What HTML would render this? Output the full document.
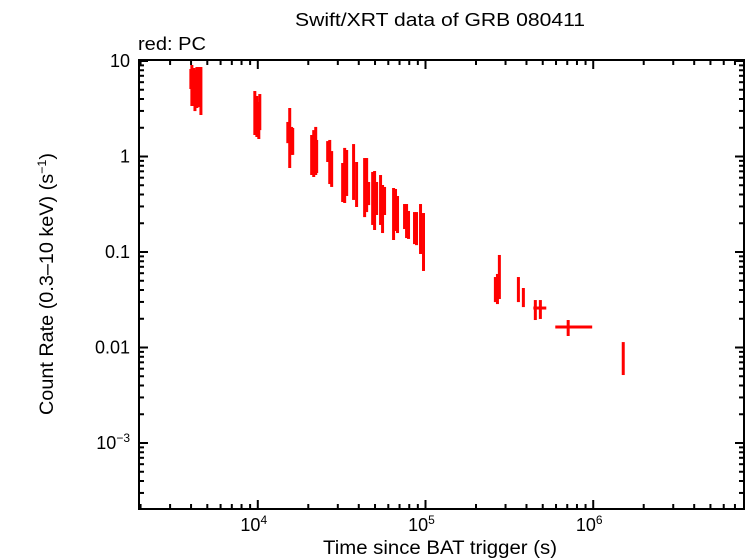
<!DOCTYPE html>
<html><head><meta charset="utf-8"><style>
body{margin:0;background:#fff;}
svg{display:block;font-family:"Liberation Sans",sans-serif;}
</style></head><body>
<svg id="chart" width="746" height="558" xmlns="http://www.w3.org/2000/svg">
<text x="295" y="26" font-size="18" textLength="290" lengthAdjust="spacingAndGlyphs">Swift/XRT data of GRB 080411</text>
<text x="138" y="50" font-size="18" textLength="68" lengthAdjust="spacingAndGlyphs">red: PC</text>
<text x="323" y="554" font-size="19" textLength="234" lengthAdjust="spacingAndGlyphs">Time since BAT trigger (s)</text>
<text transform="translate(53,415) rotate(-90)" font-size="19" textLength="262" lengthAdjust="spacingAndGlyphs">Count Rate (0.3–10 keV) (s<tspan font-size="12" dy="-7">−1</tspan><tspan dy="7">)</tspan></text>
<g id="ticks"></g><g id="marks"></g>
<rect x="139" y="60" width="605" height="449" fill="none" stroke="#000" stroke-width="2"/>
</svg>
<script>
const times=[3990,4045,4160,4220,4335,4460,4580,9600,9870,10140,10280,15100,15500,15900,16150,20950,21550,22150,22440,26100,26850,27570,32060,32960,33880,37250,38820,43350,44570,45800,48400,49700,51100,53950,55450,57000,64500,66250,68100,75000,77100,79200,86000,88400,93400,97300,261000,268500,275700,358000,383300,451700,484000,709000,1510000];
const rateLo=[5.09,3.38,3.38,2.99,3.22,3.30,2.72,1.68,1.60,1.525,1.89,1.38,0.758,1.04,1.04,0.640,0.610,0.640,0.672,0.876,0.515,0.480,0.334,0.326,0.386,0.351,0.296,0.232,0.262,0.310,0.192,0.170,0.244,0.192,0.158,0.244,0.1336,0.166,0.158,0.174,0.140,0.137,0.121,0.118,0.0953,0.0633,0.0299,0.0285,0.0322,0.0299,0.0265,0.0194,0.0199,0.0132,0.00515];
const rateHi=[8.25,9.08,8.45,8.05,8.65,8.65,8.65,4.85,4.30,3.72,4.51,2.30,3.22,2.04,1.99,1.68,1.89,2.04,1.49,1.45,1.49,1.14,0.855,1.23,1.17,1.35,0.876,0.964,0.964,0.541,0.689,0.705,0.541,0.640,0.503,0.480,0.468,0.457,0.386,0.318,0.318,0.269,0.262,0.262,0.318,0.256,0.0547,0.0589,0.0931,0.0547,0.0420,0.0314,0.0314,0.0194,0.0114];
const xerrT=[451700,484000,709000];
const xerrRate=[0.0259,0.0259,0.0164];
const xerrLo=[439500,471000,594000];
const xerrHi=[477500,525000,986000];
const yTickVals=[10,1,0.1,0.01,0.001];
const yTickLabels=["10","1","0.1","0.01","10^-3"];
const xTickVals=[1e4,1e5,1e6];

const X0=139,X1=744,Y0=60,Y1=509,LX0=3.2917,LX1=6.899,LY0=1.0105,LY1=-3.691;
function xs(t){return X0+(Math.log10(t)-LX0)/(LX1-LX0)*(X1-X0);}
function ys(r){return Y0+(LY0-Math.log10(r))/(LY0-LY1)*(Y1-Y0);}
const NS="http://www.w3.org/2000/svg";
function mk(tag,attrs,parent){const e=document.createElementNS(NS,tag);for(const k in attrs)e.setAttribute(k,attrs[k]);parent.appendChild(e);return e;}
const tg=document.getElementById('ticks'),mg=document.getElementById('marks');
for(let d=-4;d<=1;d++){for(let m=1;m<10;m++){const v=m*Math.pow(10,d);const y=ys(v);if(y<Y0||y>Y1)continue;const L=m===1?9:5;
const a=mk('line',{x1:X0,x2:X0+L,y1:y,y2:y,stroke:'#000','stroke-width':2},tg);


const b=mk('line',{x1:X1-L,x2:X1,y1:y,y2:y,stroke:'#000','stroke-width':2},tg);

}}
for(let d=3;d<=6;d++){for(let m=1;m<10;m++){const v=m*Math.pow(10,d);const x=xs(v);if(x<X0||x>X1)continue;const L=m===1?9:5;
const a=mk('line',{x1:x,x2:x,y1:Y1,y2:Y1-L,stroke:'#000','stroke-width':2},tg);


const b=mk('line',{x1:x,x2:x,y1:Y0,y2:Y0+L,stroke:'#000','stroke-width':2},tg);

}}
yTickVals.forEach((v,i)=>{const t=mk('text',{x:X0-9,y:ys(v)+6,'font-size':18,'text-anchor':'end'},tg);


const lab=yTickLabels[i];
if(lab.indexOf('^')>=0){const p=lab.split('^');t.textContent=p[0];const s=mk('tspan',{'font-size':12,dy:-7},t);s.textContent=p[1].replace('-','−');}else t.textContent=lab;});
xTickVals.forEach(v=>{const t=mk('text',{x:xs(v)-4,y:531,'font-size':18,'text-anchor':'middle'},tg);


t.textContent='10';const s=mk('tspan',{'font-size':12,dy:-7},t);s.textContent=String(Math.round(Math.log10(v)));});
times.forEach((t,i)=>{const x=xs(t);const l=mk('line',{x1:x,x2:x,y1:ys(rateHi[i]),y2:ys(rateLo[i]),stroke:'#ff0000','stroke-width':3},mg);

});
xerrT.forEach((t,i)=>{const y=ys(xerrRate[i]);const l=mk('line',{x1:xs(xerrLo[i]),x2:xs(xerrHi[i]),y1:y,y2:y,stroke:'#ff0000','stroke-width':3},mg);

});
</script>
</body></html>
